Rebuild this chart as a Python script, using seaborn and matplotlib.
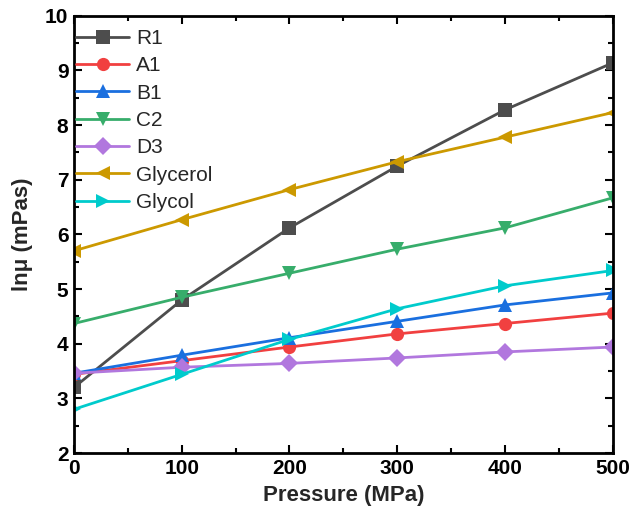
import pandas as pd
import matplotlib.pyplot as plt
import seaborn as sns
from matplotlib.ticker import MultipleLocator

# data
pressure = [0, 100, 200, 300, 400, 500]
r1 = [3.20, 4.80, 6.12, 7.25, 8.28, 9.14]
a1 = [3.44, 3.69, 3.94, 4.18, 4.37, 4.56]
b1 = [3.46, 3.79, 4.11, 4.41, 4.71, 4.93]
c2 = [4.37, 4.85, 5.29, 5.73, 6.12, 6.67]
d3 = [3.46, 3.57, 3.64, 3.74, 3.85, 3.94]
glycerol = [5.70, 6.27, 6.82, 7.33, 7.78, 8.23]
glycol = [2.80, 3.44, 4.08, 4.64, 5.06, 5.34]

names = ['R1', 'A1', 'B1', 'C2', 'D3', 'Glycerol', 'Glycol']
series = [r1, a1, b1, c2, d3, glycerol, glycol]
colors = ['#4d4d4d', '#f14040', '#1a6fdf', '#37ad6b', '#b177de', '#cc9900', '#00cbcc']
markers = ['s', 'o', '^', 'v', 'D', '<', '>']

rows = []
for name, vals in zip(names, series):
    for p, v in zip(pressure, vals):
        rows.append({'Pressure': p, 'value': v, 'sample': name})
df = pd.DataFrame(rows)

sns.set_style('ticks')
plt.rcParams['font.family'] = ['Liberation Sans', 'DejaVu Sans']

fig = plt.figure(figsize=(6.35, 5.28), dpi=100)
ax = fig.add_axes([0.1165, 0.142, 0.8485, 0.828])

sns.lineplot(data=df, x='Pressure', y='value', hue='sample', style='sample',
             hue_order=names, style_order=names,
             palette=dict(zip(names, colors)), markers=dict(zip(names, markers)),
             dashes=False, linewidth=2, markersize=9.5, markeredgewidth=0, ax=ax)

ax.set_xlim(0, 500)
ax.set_ylim(2, 10)
ax.xaxis.set_major_locator(MultipleLocator(100))
ax.xaxis.set_minor_locator(MultipleLocator(50))
ax.yaxis.set_major_locator(MultipleLocator(1))
ax.yaxis.set_minor_locator(MultipleLocator(0.5))
ax.tick_params(which='both', direction='in', top=True, right=True, width=1.5, colors='black')
ax.tick_params(which='major', length=6, labelsize=15, pad=4)
ax.tick_params(which='minor', length=3.5)
for lab in ax.get_xticklabels() + ax.get_yticklabels():
    lab.set_fontweight('bold')
for sp in ax.spines.values():
    sp.set_linewidth(2)
    sp.set_color('black')

ax.set_xlabel('Pressure (MPa)', fontsize=16, fontweight='bold', labelpad=5)
ax.set_ylabel('lnμ (mPas)', fontsize=16, fontweight='bold', labelpad=9)

leg = ax.legend(loc='upper left', bbox_to_anchor=(0.0, 0.975), frameon=False,
                fontsize=15, handlelength=2.55, handletextpad=0.33,
                labelspacing=0.4, borderaxespad=0, borderpad=0.1)
for h in leg.legend_handles:
    h.set_linewidth(2)
    h.set_markersize(9.5)

fig.savefig('out.png', dpi=100)
